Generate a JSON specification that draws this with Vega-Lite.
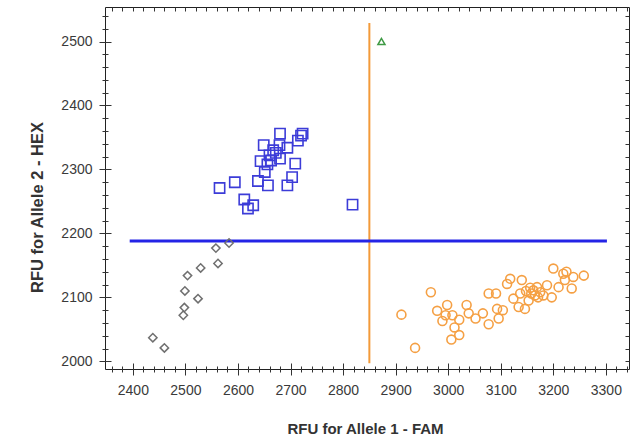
{
  "$schema": "https://vega.github.io/schema/vega-lite/v6.json",
  "width": 524,
  "height": 362,
  "autosize": {"type": "none"},
  "padding": {"left": 105, "top": 7, "right": 12, "bottom": 69},
  "background": "white",
  "config": {
    "view": {"stroke": "#222", "strokeWidth": 1},
    "axis": {"grid": false, "labelFont": "Liberation Sans", "titleFont": "Liberation Sans", "tickColor": "#333", "domain": false}
  },
  "datasets": {
    "gray": [
      {"x": 2438, "y": 2037}, {"x": 2460, "y": 2021}, {"x": 2496, "y": 2072}, {"x": 2498, "y": 2084},
      {"x": 2499, "y": 2110}, {"x": 2504, "y": 2134}, {"x": 2524, "y": 2098}, {"x": 2529, "y": 2146},
      {"x": 2558, "y": 2177}, {"x": 2562, "y": 2153}, {"x": 2583, "y": 2185}
    ],
    "blue": [
      {"x": 2565, "y": 2271}, {"x": 2594, "y": 2280}, {"x": 2612, "y": 2253}, {"x": 2619, "y": 2239},
      {"x": 2629, "y": 2244}, {"x": 2638, "y": 2282}, {"x": 2657, "y": 2275}, {"x": 2643, "y": 2313},
      {"x": 2649, "y": 2338}, {"x": 2651, "y": 2296}, {"x": 2656, "y": 2308}, {"x": 2663, "y": 2314},
      {"x": 2667, "y": 2330}, {"x": 2680, "y": 2356}, {"x": 2679, "y": 2338}, {"x": 2694, "y": 2334},
      {"x": 2680, "y": 2317}, {"x": 2694, "y": 2275}, {"x": 2703, "y": 2288}, {"x": 2709, "y": 2309},
      {"x": 2714, "y": 2345}, {"x": 2720, "y": 2353}, {"x": 2723, "y": 2356}, {"x": 2818, "y": 2245},
      {"x": 2660, "y": 2322}, {"x": 2672, "y": 2326}
    ],
    "orange": [
      {"x": 2911, "y": 2073}, {"x": 2937, "y": 2021}, {"x": 2967, "y": 2108}, {"x": 2979, "y": 2079},
      {"x": 2989, "y": 2063}, {"x": 2998, "y": 2088}, {"x": 2995, "y": 2072}, {"x": 3008, "y": 2072},
      {"x": 3012, "y": 2053}, {"x": 3006, "y": 2034}, {"x": 3021, "y": 2065}, {"x": 3021, "y": 2041},
      {"x": 3035, "y": 2088}, {"x": 3039, "y": 2075}, {"x": 3052, "y": 2067}, {"x": 3066, "y": 2075},
      {"x": 3077, "y": 2058}, {"x": 3077, "y": 2106}, {"x": 3091, "y": 2106}, {"x": 3093, "y": 2082},
      {"x": 3096, "y": 2067}, {"x": 3104, "y": 2080}, {"x": 3112, "y": 2121}, {"x": 3118, "y": 2129},
      {"x": 3124, "y": 2098}, {"x": 3140, "y": 2127}, {"x": 3137, "y": 2106}, {"x": 3134, "y": 2085},
      {"x": 3146, "y": 2082}, {"x": 3153, "y": 2095}, {"x": 3162, "y": 2111}, {"x": 3169, "y": 2116},
      {"x": 3165, "y": 2103}, {"x": 3175, "y": 2108}, {"x": 3181, "y": 2103}, {"x": 3188, "y": 2119},
      {"x": 3197, "y": 2100}, {"x": 3200, "y": 2145}, {"x": 3210, "y": 2116}, {"x": 3219, "y": 2137},
      {"x": 3222, "y": 2127}, {"x": 3225, "y": 2140}, {"x": 3235, "y": 2114}, {"x": 3238, "y": 2132},
      {"x": 3258, "y": 2134}, {"x": 3158, "y": 2106}, {"x": 3156, "y": 2115}, {"x": 3171, "y": 2100},
      {"x": 3148, "y": 2110}
    ],
    "green": [{"x": 2873, "y": 2500}],
    "vline": [{"x": 2850, "y": 1997, "y2": 2529}],
    "hline": [{"x": 2394, "x2": 3302, "y": 2188}]
  },
  "layer": [
    {
      "data": {"name": "vline"},
      "mark": {"type": "rule", "color": "#f39a3a", "strokeWidth": 2},
      "encoding": {
        "x": {"field": "x", "type": "quantitative", "scale": {"domain": [2347, 3344], "nice": false, "zero": false},
          "axis": {"orient": "bottom", "values": [2400, 2500, 2600, 2700, 2800, 2900, 3000, 3100, 3200, 3300], "format": "d", "ticks": false, "tickSize": 0, "labelPadding": 14, "labelFontSize": 14, "labelColor": "#3a3a3a", "title": "RFU for Allele 1 - FAM", "titleFontSize": 15, "titleFontWeight": "bold", "titleColor": "#333", "titleX": 260, "titleY": 59, "titleBaseline": "middle", "titleAlign": "center"}},
        "y": {"field": "y", "type": "quantitative", "scale": {"domain": [1988, 2554], "nice": false, "zero": false},
          "axis": {"orient": "left", "values": [2000, 2100, 2200, 2300, 2400, 2500], "format": "d", "ticks": false, "tickSize": 0, "labelPadding": 13, "labelFontSize": 14, "labelColor": "#3a3a3a", "title": "RFU for Allele 2 - HEX", "titleFontSize": 16.5, "titleFontWeight": "bold", "titleColor": "#333", "titleX": -68, "titleY": 200, "titleBaseline": "middle", "titleAlign": "center", "titleAngle": -90}},
        "y2": {"field": "y2"}
      }
    },
    {
      "data": {"name": "hline"},
      "mark": {"type": "rule", "color": "#2424e6", "strokeWidth": 3},
      "encoding": {
        "x": {"field": "x", "type": "quantitative", "scale": {"domain": [2347, 3344], "nice": false, "zero": false},
          "axis": {"orient": "bottom", "values": [2400, 2500, 2600, 2700, 2800, 2900, 3000, 3100, 3200, 3300], "labels": false, "title": null, "tickSize": 12, "offset": -6, "tickColor": "#333"}},
        "x2": {"field": "x2"},
        "y": {"field": "y", "type": "quantitative", "scale": {"domain": [1988, 2554], "nice": false, "zero": false},
          "axis": {"orient": "left", "values": [2000, 2100, 2200, 2300, 2400, 2500], "labels": false, "title": null, "tickSize": 12, "offset": -6, "tickColor": "#333"}}
      }
    },
    {
      "data": {"name": "gray"},
      "mark": {"type": "point", "shape": "diamond", "filled": false, "size": 70, "stroke": "#707070", "strokeWidth": 1.5, "opacity": 1},
      "encoding": {
        "x": {"field": "x", "type": "quantitative", "scale": {"domain": [2347, 3344], "nice": false, "zero": false},
          "axis": {"orient": "bottom", "values": [2360, 2380, 2420, 2440, 2460, 2480, 2520, 2540, 2560, 2580, 2620, 2640, 2660, 2680, 2720, 2740, 2760, 2780, 2820, 2840, 2860, 2880, 2920, 2940, 2960, 2980, 3020, 3040, 3060, 3080, 3120, 3140, 3160, 3180, 3220, 3240, 3260, 3280, 3320, 3340], "labels": false, "title": null, "tickSize": 6, "offset": -3}},
        "y": {"field": "y", "type": "quantitative", "scale": {"domain": [1988, 2554], "nice": false, "zero": false},
          "axis": {"orient": "left", "values": [2020, 2040, 2060, 2080, 2120, 2140, 2160, 2180, 2220, 2240, 2260, 2280, 2320, 2340, 2360, 2380, 2420, 2440, 2460, 2480, 2520, 2540], "labels": false, "title": null, "tickSize": 6, "offset": -3}}
      }
    },
    {
      "data": {"name": "blue"},
      "mark": {"type": "point", "shape": "square", "filled": false, "size": 105, "stroke": "#3c3cd8", "strokeWidth": 1.6, "opacity": 1},
      "encoding": {
        "x": {"field": "x", "type": "quantitative", "scale": {"domain": [2347, 3344], "nice": false, "zero": false},
          "axis": {"orient": "top", "values": [2360, 2380, 2400, 2420, 2440, 2460, 2480, 2500, 2520, 2540, 2560, 2580, 2600, 2620, 2640, 2660, 2680, 2700, 2720, 2740, 2760, 2780, 2800, 2820, 2840, 2860, 2880, 2900, 2920, 2940, 2960, 2980, 3000, 3020, 3040, 3060, 3080, 3100, 3120, 3140, 3160, 3180, 3200, 3220, 3240, 3260, 3280, 3300, 3320, 3340], "labels": false, "title": null, "tickSize": -4}},
        "y": {"field": "y", "type": "quantitative", "scale": {"domain": [1988, 2554], "nice": false, "zero": false},
          "axis": {"orient": "right", "values": [2000, 2020, 2040, 2060, 2080, 2100, 2120, 2140, 2160, 2180, 2200, 2220, 2240, 2260, 2280, 2300, 2320, 2340, 2360, 2380, 2400, 2420, 2440, 2460, 2480, 2500, 2520, 2540], "labels": false, "title": null, "tickSize": -4}}
      }
    },
    {
      "data": {"name": "orange"},
      "mark": {"type": "point", "shape": "circle", "filled": false, "size": 80, "stroke": "#f5a044", "strokeWidth": 1.6, "opacity": 1},
      "encoding": {
        "x": {"field": "x", "type": "quantitative", "scale": {"domain": [2347, 3344], "nice": false, "zero": false}, "axis": null},
        "y": {"field": "y", "type": "quantitative", "scale": {"domain": [1988, 2554], "nice": false, "zero": false}, "axis": null}
      }
    },
    {
      "data": {"name": "green"},
      "mark": {"type": "point", "shape": "triangle-up", "filled": false, "size": 50, "stroke": "#3f9a45", "strokeWidth": 1.5, "opacity": 1},
      "encoding": {
        "x": {"field": "x", "type": "quantitative", "scale": {"domain": [2347, 3344], "nice": false, "zero": false}, "axis": null},
        "y": {"field": "y", "type": "quantitative", "scale": {"domain": [1988, 2554], "nice": false, "zero": false}, "axis": null}
      }
    }
  ],
  "resolve": {"axis": {"x": "independent", "y": "independent"}}
}
